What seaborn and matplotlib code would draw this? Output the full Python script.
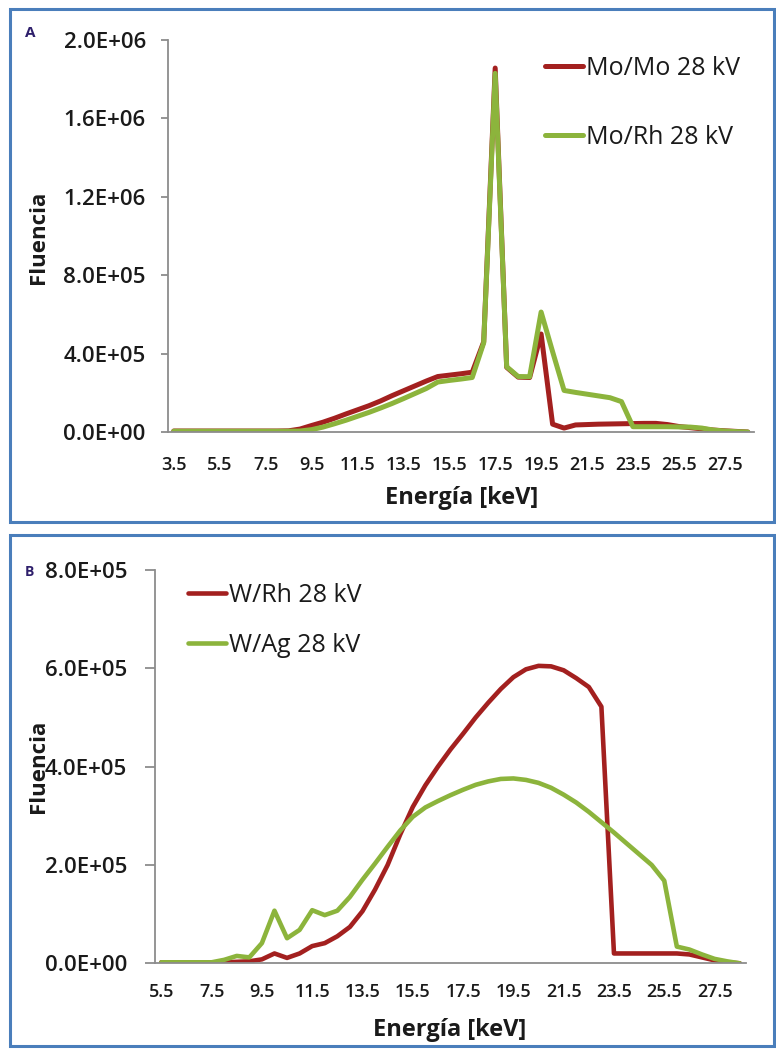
import matplotlib
matplotlib.use("Agg")
import matplotlib.pyplot as plt
import seaborn as sns
import numpy as np
from matplotlib.patches import Rectangle

# ---------------- data ----------------
energy_a = [3.5, 4.0, 4.5, 5.0, 5.5, 6.0, 6.5, 7.0, 7.5, 8.0, 8.5, 9.0, 9.5, 10.0, 10.5,
            11.0, 11.5, 12.0, 12.5, 13.0, 13.5, 14.0, 14.5, 15.0, 15.5, 16.0, 16.5, 17.0,
            17.5, 18.0, 18.5, 19.0, 19.5, 20.0, 20.5, 21.0, 21.5, 22.0, 22.5, 23.0, 23.5,
            24.0, 24.5, 25.0, 25.5, 26.0, 26.5, 27.0, 27.5, 28.0, 28.5]
momo_28 = [5e3, 5e3, 5e3, 5e3, 5e3, 5e3, 5e3, 5e3, 5e3, 5e3, 6e3, 15e3, 33e3, 50e3, 70e3,
           92e3, 113e3, 134e3, 158e3, 185e3, 210e3, 235e3, 260e3, 283e3, 290e3, 297e3, 305e3, 460e3,
           1857e3, 330e3, 280e3, 278e3, 500e3, 40e3, 20e3, 36e3, 38e3, 40e3, 41e3, 42e3, 43e3,
           44e3, 44e3, 38e3, 28e3, 22e3, 16e3, 10e3, 6e3, 3e3, 0]
morh_28 = [4e3, 4e3, 4e3, 4e3, 4e3, 4e3, 4e3, 4e3, 4e3, 4e3, 4e3, 5e3, 12e3, 25e3, 42e3,
           60e3, 80e3, 100e3, 122e3, 145e3, 170e3, 196e3, 222e3, 255e3, 263e3, 270e3, 278e3, 455e3,
           1830e3, 333e3, 283e3, 282e3, 612e3, 410e3, 212e3, 202e3, 193e3, 184e3, 175e3, 155e3, 27e3,
           27e3, 27e3, 27e3, 26e3, 25e3, 20e3, 10e3, 5e3, 2e3, 0]

energy_b = [5.5, 6.0, 6.5, 7.0, 7.5, 8.0, 8.5, 9.0, 9.5, 10.0, 10.5, 11.0, 11.5, 12.0, 12.5,
            13.0, 13.5, 14.0, 14.5, 15.0, 15.5, 16.0, 16.5, 17.0, 17.5, 18.0, 18.5, 19.0,
            19.5, 20.0, 20.5, 21.0, 21.5, 22.0, 22.5, 23.0, 23.5, 24.0, 24.5, 25.0, 25.5,
            26.0, 26.5, 27.0, 27.5, 28.0, 28.5]
wrh_28 = [2e3, 2e3, 2e3, 2e3, 2e3, 2e3, 3e3, 4e3, 8e3, 20e3, 11e3, 20e3, 35e3, 41e3, 55e3,
          74e3, 106e3, 150e3, 200e3, 262e3, 318e3, 362e3, 400e3, 435e3, 467e3, 500e3, 530e3, 558e3,
          582e3, 598e3, 605e3, 604e3, 596e3, 580e3, 562e3, 522e3, 20e3, 20e3, 20e3, 20e3, 20e3,
          20e3, 18e3, 12e3, 6e3, 2e3, 0]
wag_28 = [2e3, 2e3, 2e3, 2e3, 2e3, 7e3, 15e3, 12e3, 41e3, 107e3, 51e3, 68e3, 108e3, 98e3, 107e3,
          135e3, 170e3, 203e3, 237e3, 270e3, 298e3, 317e3, 330e3, 342e3, 353e3, 363e3, 370e3, 375e3,
          376e3, 373e3, 367e3, 357e3, 343e3, 327e3, 308e3, 287e3, 266e3, 244e3, 222e3, 200e3, 168e3,
          34e3, 28e3, 18e3, 9e3, 4e3, 0]

xlabels_a = ["3.5", "5.5", "7.5", "9.5", "11.5", "13.5", "15.5", "17.5", "19.5", "21.5",
             "23.5", "25.5", "27.5"]
xlabels_b = ["5.5", "7.5", "9.5", "11.5", "13.5", "15.5", "17.5", "19.5", "21.5", "23.5",
             "25.5", "27.5"]
yticks_a = [0, 4e5, 8e5, 1.2e6, 1.6e6, 2.0e6]
yticks_b = [0, 2e5, 4e5, 6e5, 8e5]
labels_a = ["Mo/Mo 28 kV", "Mo/Rh 28 kV"]
labels_b = ["W/Rh 28 kV", "W/Ag 28 kV"]

# ---------------- style ----------------
sns.set_theme(style="white")
plt.rcParams["font.family"] = ["Open Sans", "DejaVu Sans"]

RED = "#a3201f"
GREEN = "#8cb43c"
AXC = "#8c8c8c"
TXT = "#1a1a1a"
W, H = 776, 1049


def fx(px):
    return px / W


def fy(py):
    return 1 - py / H


fig = plt.figure(figsize=(W / 100, H / 100), dpi=100)
fig.patch.set_facecolor("white")

# panel frames
for (x0, y0, x1, y1) in [(10, 9, 774, 522), (10, 535, 774, 1046)]:
    fig.patches.append(Rectangle((fx(x0), fy(y1)), fx(x1) - fx(x0), fy(y0) - fy(y1),
                                 transform=fig.transFigure, fill=False,
                                 ec="#4a7ebb", lw=2.2, zorder=0))

axA = fig.add_axes([fx(168), fy(432), fx(753.5) - fx(168), fy(40) - fy(432)])
axB = fig.add_axes([fx(155), fy(963.3), fx(746) - fx(155), fy(570) - fy(963.3)])


def style_axes(ax, xlabels, minor_ticks, yticks, xlim, ylim, xpad, ypad, ytl):
    ax.set_xlim(*xlim)
    ax.set_ylim(*ylim)
    for s in ["top", "right"]:
        ax.spines[s].set_visible(False)
    for s in ["left", "bottom"]:
        ax.spines[s].set_color(AXC)
        ax.spines[s].set_linewidth(1.3)
    ax.set_xticks([float(s) for s in xlabels])
    ax.set_xticklabels(xlabels, fontsize=13, color=TXT, fontweight="semibold")
    ax.set_xticks(minor_ticks, minor=True)
    ax.tick_params(axis="x", which="major", length=0, pad=xpad)
    ax.tick_params(axis="x", which="minor", length=7, direction="inout",
                   color=AXC, width=1.3)
    ax.set_yticks(yticks)
    ax.set_yticklabels([f"{v:.1E}" for v in yticks], fontsize=16, color=TXT,
                       fontweight="semibold")
    ax.tick_params(axis="y", which="major", length=ytl, direction="out",
                   color=AXC, width=1.3, pad=ypad, left=True)
    ax.set_xlabel("")
    ax.set_ylabel("")
    ax.grid(False)


# ---- Panel A ----
sns.lineplot(x=energy_a, y=momo_28, ax=axA, color=RED, lw=3.6, label=labels_a[0],
             sort=False, estimator=None)
sns.lineplot(x=energy_a, y=morh_28, ax=axA, color=GREEN, lw=3.6, label=labels_a[1],
             sort=False, estimator=None)
style_axes(axA, xlabels_a, [float(s) - 0.25 for s in xlabels_a], yticks_a,
           (3.25, 28.75), (0, 2.0e6), 17, 11, 5)
legA = axA.legend(loc="upper left", bbox_to_anchor=(fx(545), fy(56)),
                  bbox_transform=fig.transFigure, frameon=False, fontsize=18,
                  handlelength=1.5, handletextpad=0.15, labelspacing=1.75,
                  borderpad=0, borderaxespad=0)
for t in legA.get_texts():
    t.set_color(TXT)

# ---- Panel B ----
sns.lineplot(x=energy_b, y=wrh_28, ax=axB, color=RED, lw=3.3, label=labels_b[0],
             sort=False, estimator=None)
sns.lineplot(x=energy_b, y=wag_28, ax=axB, color=GREEN, lw=3.3, label=labels_b[1],
             sort=False, estimator=None)
minor_b = [5.25 + k for k in range(24)]
style_axes(axB, xlabels_b, minor_b, yticks_b, (5.25, 28.75), (0, 8e5), 14, 13, 7)
legB = axB.legend(loc="upper left", bbox_to_anchor=(fx(188), fy(583)),
                  bbox_transform=fig.transFigure, frameon=False, fontsize=18,
                  handlelength=1.5, handletextpad=0.15, labelspacing=1.0,
                  borderpad=0, borderaxespad=0)
for t in legB.get_texts():
    t.set_color(TXT)

# axis titles and panel letters
fig.text(fx(39), fy(237), "Fluencia", rotation=90, ha="center", va="center",
         fontsize=16, fontweight="bold", color=TXT)
fig.text(fx(462), fy(498), "Energía [keV]", ha="center", va="center",
         fontsize=17, fontweight="bold", color=TXT)
fig.text(fx(39), fy(766), "Fluencia", rotation=90, ha="center", va="center",
         fontsize=16, fontweight="bold", color=TXT)
fig.text(fx(450), fy(1030), "Energía [keV]", ha="center", va="center",
         fontsize=17, fontweight="bold", color=TXT)
fig.text(fx(30), fy(33), "A", ha="center", va="center", fontsize=11,
         fontweight="bold", color="#2e1f6b")
fig.text(fx(29), fy(572), "B", ha="center", va="center", fontsize=10,
         fontweight="bold", color="#2e1f6b")

fig.savefig("out.png", dpi=100, facecolor="white")
